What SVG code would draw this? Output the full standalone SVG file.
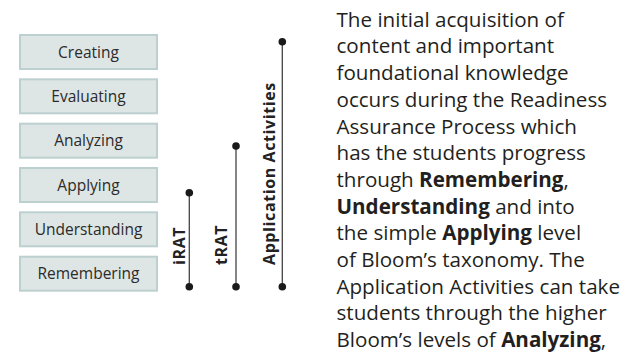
<svg xmlns="http://www.w3.org/2000/svg" width="625" height="357" viewBox="0 0 625 357">
<style>
.box rect{fill:#dde5e5;stroke:#bdd0d0;stroke-width:2}
.box text{font-family:"Open Sans","Noto Sans",sans-serif;font-size:15.5px;fill:#2b2b2b;text-anchor:middle}
.lbl{font-family:"Open Sans","Noto Sans",sans-serif;font-size:16px;font-weight:bold;letter-spacing:0.6px;fill:#222}
.bar line{stroke:#444;stroke-width:1.3}
.bar circle{fill:#1a1a1a}
.para{font-family:"Open Sans","Noto Sans",sans-serif;font-size:20.6px;fill:#231f20}
.para tspan.b{font-weight:bold}
</style>
<rect width="625" height="357" fill="#fff"/>
<g id="creating" class="box"><rect x="20" y="35" width="137" height="34"/><text x="88.5" y="57.5">Creating</text></g>
<g id="evaluating" class="box"><rect x="20" y="79.3" width="137" height="34"/><text x="88.5" y="101.8">Evaluating</text></g>
<g id="analyzing" class="box"><rect x="20" y="123.7" width="137" height="34"/><text x="88.5" y="146.2">Analyzing</text></g>
<g id="applying" class="box"><rect x="20" y="168" width="137" height="34"/><text x="88.5" y="190.5">Applying</text></g>
<g id="understanding" class="box"><rect x="20" y="212.3" width="137" height="34"/><text x="88.5" y="234.8">Understanding</text></g>
<g id="remembering" class="box"><rect x="20" y="256.7" width="137" height="34"/><text x="88.5" y="279.2">Remembering</text></g>
<g id="connectors">
<g id="irat" class="bar"><line x1="189.3" y1="192.7" x2="189.3" y2="286.7"/><circle cx="189.3" cy="192.7" r="3.8"/><circle cx="189.3" cy="286.7" r="3.8"/></g>
<g id="trat" class="bar"><line x1="236" y1="146" x2="236" y2="286.7"/><circle cx="236" cy="146" r="3.8"/><circle cx="236" cy="286.7" r="3.8"/></g>
<g id="aa" class="bar"><line x1="282.3" y1="41.7" x2="282.3" y2="286.7"/><circle cx="282.3" cy="41.7" r="3.8"/><circle cx="282.3" cy="286.7" r="3.8"/></g>
</g>
<text class="lbl" transform="translate(185,265) rotate(-90)">iRAT</text>
<text class="lbl" transform="translate(227,265) rotate(-90)">tRAT</text>
<text class="lbl" transform="translate(275,265) rotate(-90)">Application Activities</text>
<text class="para" x="336.5">
<tspan x="336.5" y="26.7">The initial acquisition of</tspan>
<tspan x="336.5" y="53.4">content and important</tspan>
<tspan x="336.5" y="80.1">foundational knowledge</tspan>
<tspan x="336.5" y="106.8">occurs during the Readiness</tspan>
<tspan x="336.5" y="133.5">Assurance Process which</tspan>
<tspan x="336.5" y="160.2">has the students progress</tspan>
<tspan x="336.5" y="186.9">through <tspan class="b">Remembering</tspan>,</tspan>
<tspan x="336.5" y="213.6"><tspan class="b">Understanding</tspan> and into</tspan>
<tspan x="336.5" y="240.3">the simple <tspan class="b">Applying</tspan> level</tspan>
<tspan x="336.5" y="267">of Bloom’s taxonomy. The</tspan>
<tspan x="336.5" y="293.7">Application Activities can take</tspan>
<tspan x="336.5" y="320.4">students through the higher</tspan>
<tspan x="336.5" y="347.1">Bloom’s levels of <tspan class="b">Analyzing</tspan>,</tspan>
</text>
</svg>
